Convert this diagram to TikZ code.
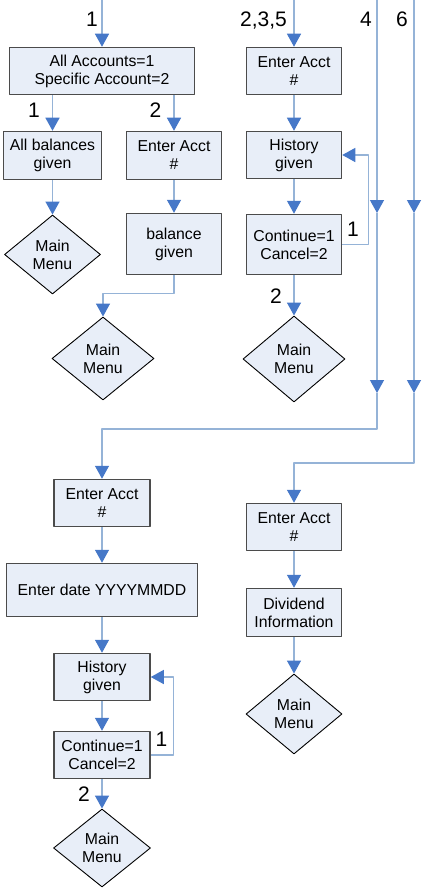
\documentclass[tikz,border=0pt]{standalone}
\usepackage{fontspec}
\setmainfont{Liberation Sans}
\usetikzlibrary{shapes.geometric,arrows.meta}
\definecolor{boxfill}{RGB}{232,238,248}
\definecolor{boxedge}{RGB}{75,75,75}
\definecolor{linkblue}{RGB}{149,179,215}
\definecolor{tipblue}{RGB}{70,120,200}

\begin{document}
\begin{tikzpicture}[line join=round,x=1pt,y=-1pt,
	box/.style={draw=boxedge,fill=boxfill,line width=1.5pt,align=center,inner sep=0pt,
		font=\fontsize{15.8}{18}\selectfont},
	menu/.style={diamond,draw=black,fill=boxfill,line width=0.9pt,align=center,inner sep=0pt,
		font=\fontsize{15.8}{18}\selectfont},
	lbl/.style={inner sep=0pt,text depth=0pt,font=\fontsize{21}{24}\selectfont},
	conn/.style={draw=linkblue,line width=1.3pt,-{Triangle[width=14pt,length=13pt,color=tipblue]}}]
	\useasboundingbox (0,0) rectangle (437,888);

	% balances
	\node[box,minimum width=185,minimum height=47] (acctsel) at (102,71) {All Accounts=1\\Specific Account=2};
	\node[box,minimum width=98,minimum height=48] (allbal) at (52.5,155.5) {All balances\\given};
	\node[box,minimum width=95,minimum height=48] (acct1) at (174,155.5) {Enter Acct\\\#};
	\node[box,minimum width=95,minimum height=61] (balgiven) at (174,244) {balance\\given};
	\node[menu,minimum width=96,minimum height=79] (menu1) at (52.5,254.5) {Main\\Menu};
	\node[menu,minimum width=102,minimum height=83] (menu2) at (103,358.5) {Main\\Menu};

	% history
	\node[box,minimum width=95,minimum height=47] (acct2) at (294,71) {Enter Acct\\\#};
	\node[box,minimum width=95,minimum height=47] (hist1) at (294,155) {History\\given};
	\node[box,minimum width=95,minimum height=60] (cont1) at (294,244.5) {Continue=1\\Cancel=2};
	\node[menu,minimum width=102,minimum height=86] (menu3) at (294,359) {Main\\Menu};

	% history by date
	\node[box,minimum width=96,minimum height=47] (acct3) at (102,503) {Enter Acct\\\#};
	\node[box,minimum width=191,minimum height=53] (datein) at (102,590) {Enter date YYYYMMDD};
	\node[box,minimum width=96,minimum height=47] (hist2) at (102,677) {History\\given};
	\node[box,minimum width=96,minimum height=47] (cont2) at (102,755) {Continue=1\\Cancel=2};
	\node[menu,minimum width=97,minimum height=78] (menu4) at (102,848) {Main\\Menu};

	% dividends
	\node[box,minimum width=95,minimum height=47] (acct4) at (294,527) {Enter Acct\\\#};
	\node[box,minimum width=95,minimum height=48] (divinfo) at (294,612.5) {Dividend\\Information};
	\node[menu,minimum width=96,minimum height=80] (menu5) at (294,714) {Main\\Menu};

	\coordinate (in1) at (102,0);
	\coordinate (in235) at (294,0);
	\coordinate (in4) at (377,0);
	\coordinate (mid4a) at (377,213);
	\coordinate (mid4b) at (377,393);
	\coordinate (turn4) at (377,429);
	\coordinate (in6) at (414,0);
	\coordinate (mid6a) at (414,213);
	\coordinate (mid6b) at (414,393);
	\coordinate (turn6) at (414,463);

	\draw[conn] (in1) -- (acctsel.north);
	\draw[conn] (allbal.north |- acctsel.south) -- (allbal.north);
	\draw[conn] (acct1.north |- acctsel.south) -- (acct1.north);
	\draw[conn] (allbal.south) -- (menu1.north);
	\draw[conn] (acct1.south) -- (balgiven.north);
	\draw[conn] (balgiven.south) -- ++(0,18) -| (menu2.north);

	\draw[conn] (in235) -- (acct2.north);
	\draw[conn] (acct2.south) -- (hist1.north);
	\draw[conn] (hist1.south) -- (cont1.north);
	\draw[conn] (cont1.east) -- ++(26,0) |- (hist1.east);
	\draw[conn] (cont1.south) -- (menu3.north);

	\draw[conn] (in4) -- (mid4a);
	\draw[conn] (mid4a) -- (mid4b);
	\draw[conn] (mid4b) -- (turn4) -| (acct3.north);
	\draw[conn] (acct3.south) -- (datein.north);
	\draw[conn] (datein.south) -- (hist2.north);
	\draw[conn] (hist2.south) -- (cont2.north);
	\draw[conn] (cont2.east) -- ++(23,0) |- (hist2.east);
	\draw[conn] (cont2.south) -- (menu4.north);

	\draw[conn] (in6) -- (mid6a);
	\draw[conn] (mid6a) -- (mid6b);
	\draw[conn] (mid6b) -- (turn6) -| (acct4.north);
	\draw[conn] (acct4.south) -- (divinfo.north);
	\draw[conn] (divinfo.south) -- (menu5.north);

	\node[lbl] (lab1) at (92,19.5) {1};
	\node[lbl] (lab235) at (263.5,19.5) {2,3,5};
	\node[lbl] (lab4) at (366,19.5) {4};
	\node[lbl] (lab6) at (402,19.5) {6};
	\node[lbl] (laball) at (34,110) {1};
	\node[lbl] (labone) at (155.5,110) {2};
	\node[lbl] (labcont1) at (353,229.5) {1};
	\node[lbl] (labcanc1) at (276,296.5) {2};
	\node[lbl] (labcont2) at (161.5,739.5) {1};
	\node[lbl] (labcanc2) at (84,794) {2};
\end{tikzpicture}
\end{document}
